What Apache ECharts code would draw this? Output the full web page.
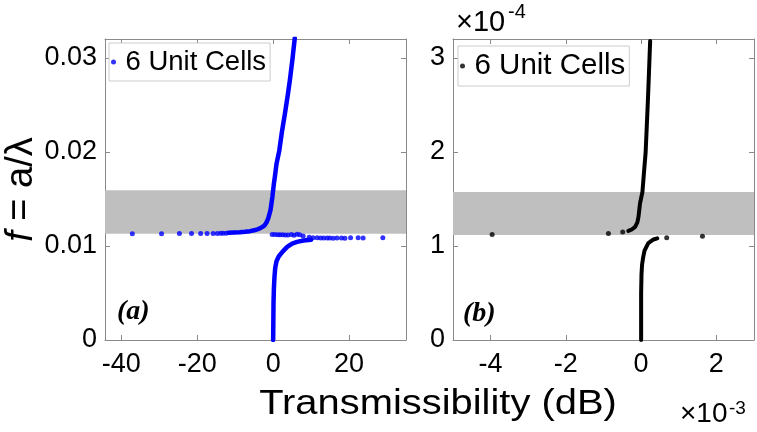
<!DOCTYPE html>
<html><head><meta charset="utf-8">
<script src="https://cdn.jsdelivr.net/npm/echarts@6/dist/echarts.min.js"></script>
<style>html,body{margin:0;padding:0;background:#fff}#c{width:757px;height:432px}</style>
</head><body><div id="c"></div>
<script>
// ---- Panel (a): x in dB, y = f ----
const aXTicks = [-40, -20, 0, 20];
const aYTicks = [0, 0.01, 0.02, 0.03];
const aBand = [0.0113, 0.01592];
const aUpperCurve = [[-11.8,0.01139],[-10.3,0.01142],[-8.8,0.01146],[-7.4,0.01151],[-6.1,0.01157],[-5.0,0.01166],[-4.2,0.01176],[-3.5,0.01186],[-2.8,0.01203],[-2.2,0.01221],[-1.7,0.01254],[-1.3,0.01292],[-1.0,0.01335],[-0.7,0.0138],[-0.45,0.0145],[-0.2,0.01522],[0,0.01593],[0.2,0.01664],[0.45,0.01734],[0.9,0.01876],[1.6,0.0201],[2.3,0.0221],[3.1,0.02407],[3.8,0.0259],[4.4,0.0276],[5.1,0.0299],[5.7,0.0321]];
const aLowerCurve = [[0,0],[0.05,0.002],[0.1,0.004],[0.2,0.0055],[0.35,0.0067],[0.55,0.0077],[0.9,0.0084],[1.5,0.0089],[2.5,0.0094],[3.7,0.0099],[5.0,0.01025],[6.3,0.01043],[8.0,0.01057],[10.0,0.01066]];
const aDots = [[-37.1,0.0113],[-29.4,0.0113],[-24.7,0.01131],[-21.5,0.01131],[-19.1,0.01132],[-17.4,0.01132],[-15.8,0.01133],[-14.7,0.01133],[-13.8,0.01134],[-13.2,0.01134],[-12.4,0.01135],
  [-0.26,0.01122],[0.45,0.01121],[1.2,0.0112],[1.8,0.01119],[2.5,0.01118],[3.2,0.01117],[3.9,0.01115],[4.8,0.01121],[5.5,0.01113],[6.3,0.01124],[7.0,0.0112],[7.9,0.01105],
  [9.5,0.01092],[10.5,0.01088],[11.6,0.01086],[12.5,0.01085],[13.3,0.01085],[14.2,0.01084],[14.9,0.01084],[15.8,0.01083],[16.8,0.01085],[18.0,0.01085],[18.9,0.01083],[20.4,0.01087],[22.4,0.01086],[23.7,0.01085],[28.9,0.01088]];
// ---- Panel (b): x in units of 1e-3 dB, y in units of 1e-4 ----
const bXTicks = [-4, -2, 0, 2];
const bYTicks = [0, 1, 2, 3];
const bBand = [1.115, 1.574];
const bUpperCurve = [[-0.34,1.16],[-0.25,1.175],[-0.16,1.203],[-0.1,1.25],[-0.07,1.309],[-0.03,1.451],[0.035,1.574],[0.08,1.8],[0.12,1.996],[0.15,2.27],[0.18,2.548],[0.21,2.86],[0.24,3.18]];
const bLowerCurve = [[0,0],[0,0.5],[0.01,0.7],[0.025,0.8],[0.05,0.87],[0.09,0.95],[0.19,1.03],[0.33,1.069],[0.43,1.08]];
const bDots = [[-3.96,1.122],[-0.87,1.133],[-0.49,1.147],[0.68,1.086],[1.63,1.104]];
const seriesName = '6 Unit Cells';

const FONT = 'Liberation Sans';
const AXC = '#8a8a8a';
function xAx(grid, min, max, ticks, pos, labels) {
  return {type:'value', gridIndex:grid, min:min, max:max, position:pos,
    axisLine:{show:true, onZero:false, lineStyle:{color:AXC, width:1}},
    axisTick:{show:true, inside:true, length:5, lineStyle:{color:AXC}, customValues:ticks},
    axisLabel:{show:labels, customValues:ticks, fontSize:27, fontFamily:FONT, color:'#000', margin:11},
    splitLine:{show:false}};
}
function yAx(grid, min, max, ticks, pos, labels, extra) {
  return Object.assign({type:'value', gridIndex:grid, min:min, max:max, position:pos,
    axisLine:{show:true, onZero:false, lineStyle:{color:AXC, width:1}},
    axisTick:{show:true, inside:true, length:5, lineStyle:{color:AXC}, customValues:ticks},
    axisLabel:{show:labels, customValues:ticks, fontSize:27, fontFamily:FONT, color:'#000', margin:8},
    splitLine:{show:false}}, extra||{});
}
const chart = echarts.init(document.getElementById('c'), null, {renderer:'canvas'});
chart.setOption({
  animation:false,
  backgroundColor:'#fff',
  grid:[{left:105, top:39, width:301, height:301}, {left:453, top:39, width:301, height:301}],
  xAxis:[xAx(0,-44.3,35,aXTicks,'bottom',true), xAx(0,-44.3,35,aXTicks,'top',false),
         xAx(1,-5,3,bXTicks,'bottom',true), xAx(1,-5,3,bXTicks,'top',false)],
  yAxis:[yAx(0,0,0.032,aYTicks,'left',true,{name:'{i|f} = a/λ', nameLocation:'middle', nameRotate:90, nameGap:58,
           nameTextStyle:{fontSize:38, fontFamily:FONT, color:'#000', rich:{i:{fontSize:38, fontFamily:FONT, fontStyle:'italic', color:'#000'}}}}),
         yAx(0,0,0.032,aYTicks,'right',false),
         yAx(1,0,3.2,bYTicks,'left',true), yAx(1,0,3.2,bYTicks,'right',false)],
  legend:[
    {left:109, top:43, data:[{name:seriesName, icon:'circle'}], itemWidth:14, itemHeight:5, padding:[5,4,5,2],
     backgroundColor:'#fff', borderColor:'#cccccc', borderWidth:1, borderRadius:0, selectedMode:false,
     textStyle:{fontSize:27.5, fontFamily:FONT, color:'#000'}},
    {left:458, top:46, data:[{name:seriesName, icon:'circle', itemStyle:{color:'#000'}}], itemWidth:14, itemHeight:5, padding:[5,4,5,2],
     backgroundColor:'#fff', borderColor:'#cccccc', borderWidth:1, borderRadius:0, selectedMode:false,
     textStyle:{fontSize:29.5, fontFamily:FONT, color:'#000'}}
  ],
  series:[
    {type:'line', xAxisIndex:0, yAxisIndex:0, data:[], silent:true, z:1,
     markArea:{silent:true, itemStyle:{color:'#bfbfbf', opacity:1}, data:[[{yAxis:aBand[0]},{yAxis:aBand[1]}]]}},
    {type:'line', xAxisIndex:0, yAxisIndex:0, data:aUpperCurve, showSymbol:false, symbol:'none', z:3,
     lineStyle:{color:'#0000ff', width:4.5, cap:'round', join:'round'}},
    {type:'line', xAxisIndex:0, yAxisIndex:0, data:aLowerCurve, showSymbol:false, symbol:'none', z:3,
     lineStyle:{color:'#0000ff', width:4.5, cap:'round', join:'round'}},
    {name:seriesName, type:'scatter', xAxisIndex:0, yAxisIndex:0, data:aDots, symbolSize:5, z:4,
     itemStyle:{color:'#0000ff'}},
    {type:'line', xAxisIndex:2, yAxisIndex:2, data:[], silent:true, z:1,
     markArea:{silent:true, itemStyle:{color:'#bfbfbf', opacity:1}, data:[[{yAxis:bBand[0]},{yAxis:bBand[1]}]]}},
    {type:'line', xAxisIndex:2, yAxisIndex:2, data:bUpperCurve, showSymbol:false, symbol:'none', z:3,
     lineStyle:{color:'#000', width:4, cap:'round', join:'round'}},
    {type:'line', xAxisIndex:2, yAxisIndex:2, data:bLowerCurve, showSymbol:false, symbol:'none', z:3,
     lineStyle:{color:'#000', width:4, cap:'round', join:'round'}},
    {name:seriesName, type:'scatter', xAxisIndex:2, yAxisIndex:2, data:bDots, symbolSize:5, z:4,
     itemStyle:{color:'#000'}}
  ],
  graphic:[
    {type:'text', x:438, y:404, scaleX:1.14, originX:0, originY:0,
     style:{text:'Transmissibility (dB)', font:'35px "Liberation Sans"', fill:'#000', textAlign:'center', textVerticalAlign:'middle'}},
    {type:'text', x:680, y:428, style:{text:'×10', font:'28px "Liberation Sans"', fill:'#000', textAlign:'left', textVerticalAlign:'bottom'}},
    {type:'text', x:729, y:399, style:{text:'-3', font:'19px "Liberation Sans"', fill:'#000', textAlign:'left', textVerticalAlign:'top'}},
    {type:'text', x:456, y:37, style:{text:'×10', font:'29px "Liberation Sans"', fill:'#000', textAlign:'left', textVerticalAlign:'bottom'}},
    {type:'text', x:508, y:2, style:{text:'-4', font:'20px "Liberation Sans"', fill:'#000', textAlign:'left', textVerticalAlign:'top'}},
    {type:'text', x:117, y:312, style:{text:'(a)', font:'italic bold 28px "Liberation Serif"', fill:'#000', textAlign:'left', textVerticalAlign:'middle'}},
    {type:'text', x:463, y:314, style:{text:'(b)', font:'italic bold 28px "Liberation Serif"', fill:'#000', textAlign:'left', textVerticalAlign:'middle'}}
  ]
});
</script></body></html>
